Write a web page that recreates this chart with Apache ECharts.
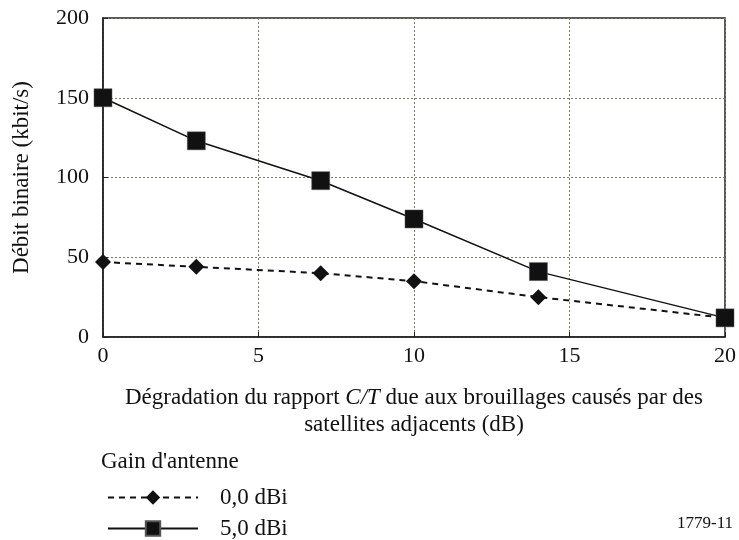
<!DOCTYPE html>
<html>
<head>
<meta charset="utf-8">
<script src="https://cdn.jsdelivr.net/npm/echarts@6/dist/echarts.min.js"></script>
<style>
  html, body { margin: 0; padding: 0; background: #fff; }
  #chart { width: 739px; height: 540px; }
</style>
</head>
<body>
<div id="chart"></div>
<script>
// dégradation C/T (dB)
const xValues = [0, 3, 7, 10, 14, 20]
// débit binaire (kbit/s)
const gain0 = [47, 44, 40, 35, 25, 12]
const gain5 = [150, 123, 98, 74, 41, 12]
const seriesNames = ['0,0 dBi', '5,0 dBi']

const serif = '"Liberation Serif", "DejaVu Serif", serif'

const chart = echarts.init(document.getElementById('chart'))

// une légende par courbe, l'une sous l'autre
const legendTops = [486, 517]
const legends = seriesNames.map((name, i) => ({
  left: 107,
  top: legendTops[i],
  padding: 0,
  itemWidth: 90,
  itemHeight: 18,
  data: [name],
  textStyle: { fontFamily: serif, fontSize: 23, color: '#111', padding: [0, 0, 0, 17] }
}))

chart.setOption({
  backgroundColor: '#fff',
  animation: false,
  textStyle: { fontFamily: serif },
  grid: {
    left: 103,
    right: 13,
    top: 18,
    bottom: 203,
    show: true,
    borderColor: '#222',
    borderWidth: 1.5
  },
  title: [
    {
      text: "Gain d'antenne",
      left: 101,
      top: 450,
      padding: 0,
      textStyle: { fontFamily: serif, fontSize: 23, fontWeight: 'normal', color: '#111' }
    },
    {
      text: '1779-11',
      right: 6,
      top: 515,
      padding: 0,
      textStyle: { fontFamily: serif, fontSize: 17, fontWeight: 'normal', color: '#111' }
    }
  ],
  legend: legends,
  xAxis: {
    type: 'value',
    min: 0,
    max: 20,
    interval: 5,
    name: 'Dégradation du rapport {i|C/T} due aux brouillages causés par des\nsatellites adjacents (dB)',
    nameLocation: 'middle',
    nameGap: 47,
    nameTextStyle: {
      fontFamily: serif,
      fontSize: 23,
      color: '#111',
      lineHeight: 27,
      rich: { i: { fontFamily: serif, fontSize: 23, fontStyle: 'italic', color: '#111', lineHeight: 27 } }
    },
    axisLine: { lineStyle: { color: '#222', width: 1.5 } },
    axisTick: { inside: true, length: 5, lineStyle: { color: '#222' } },
    axisLabel: { fontFamily: serif, fontSize: 22, color: '#111', margin: 8 },
    splitLine: { lineStyle: { color: '#7a7a60', type: [2, 2], width: 1 } }
  },
  yAxis: {
    type: 'value',
    min: 0,
    max: 200,
    interval: 50,
    name: 'Débit binaire (kbit/s)',
    nameLocation: 'middle',
    nameGap: 70,
    nameTextStyle: { fontFamily: serif, fontSize: 23, color: '#111' },
    axisLine: { show: true, lineStyle: { color: '#222', width: 1.5 } },
    axisTick: { show: true, inside: true, length: 5, lineStyle: { color: '#222' } },
    axisLabel: { fontFamily: serif, fontSize: 22, color: '#111', margin: 14 },
    splitLine: { lineStyle: { color: '#7a7a60', type: [2, 2], width: 1 } }
  },
  series: [
    {
      name: seriesNames[0],
      type: 'line',
      data: xValues.map((x, i) => [x, gain0[i]]),
      symbol: 'diamond',
      symbolSize: 16,
      lineStyle: { color: '#111', width: 2, type: [6, 5] },
      itemStyle: { color: '#111' },
      z: 3
    },
    {
      name: seriesNames[1],
      type: 'line',
      data: xValues.map((x, i) => [x, gain5[i]]),
      symbol: 'rect',
      symbolSize: 18,
      lineStyle: { color: '#111', width: 1.5 },
      itemStyle: { color: '#111', borderColor: '#555', borderWidth: 0.5 },
      z: 4
    }
  ]
})
</script>
</body>
</html>
